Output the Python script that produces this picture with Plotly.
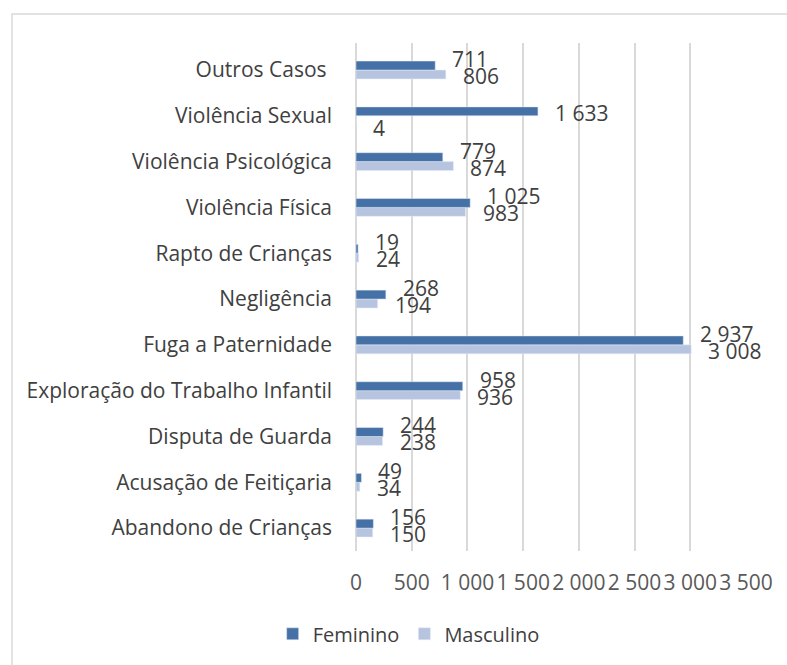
import plotly.graph_objects as go

categories = ["Abandono de Crianças", "Acusação de Feitiçaria", "Disputa de Guarda",
              "Exploração do Trabalho Infantil", "Fuga a Paternidade", "Negligência",
              "Rapto de Crianças", "Violência Física", "Violência Psicológica",
              "Violência Sexual", "Outros Casos "]
feminino = [156, 49, 244, 958, 2937, 268, 19, 1025, 779, 1633, 711]
masculino = [150, 34, 238, 936, 3008, 194, 24, 983, 874, 4, 806]
x_ticks = [0, 500, 1000, 1500, 2000, 2500, 3000, 3500]

C_FEM = "#4571a7"
C_MAS = "#b7c4e0"
TXT = "#404040"
FONT = "Open Sans"
FS = 21

fig = go.Figure()
fig.add_trace(go.Bar(name="Masculino", y=categories, x=masculino, orientation="h",
                     marker=dict(color=C_MAS), legendrank=2))
fig.add_trace(go.Bar(name="Feminino", y=categories, x=feminino, orientation="h",
                     marker=dict(color=C_FEM), legendrank=1))

def fmt(v):
    return f"{v:,}".replace(",", " ")

annotations = []
for cat, f, m in zip(categories, feminino, masculino):
    overlap = abs(f - m) < 600
    fs_shift, ms_shift = (11, -6) if overlap else (3, -12)
    annotations.append(dict(x=f, y=cat, xref="x", yref="y", text=fmt(f), showarrow=False,
                            xanchor="left", xshift=15, yshift=fs_shift,
                            font=dict(family=FONT, size=FS, color=TXT)))
    annotations.append(dict(x=m, y=cat, xref="x", yref="y", text=fmt(m), showarrow=False,
                            xanchor="left", xshift=15, yshift=ms_shift,
                            font=dict(family=FONT, size=FS, color=TXT)))

fig.update_layout(
    width=787, height=665,
    margin=dict(l=356, r=41, t=43, b=114),
    paper_bgcolor="white", plot_bgcolor="white",
    separators=", ",
    barmode="group", bargap=0.61, bargroupgap=0,
    font=dict(family=FONT, size=FS, color=TXT),
    showlegend=True,
    legend=dict(orientation="h", x=0.135, xanchor="center", y=-0.163, yanchor="middle",
                font=dict(family=FONT, size=FS - 1, color=TXT), traceorder="normal",
                itemwidth=30),
    annotations=annotations,
    shapes=[dict(type="rect", xref="paper", yref="paper", x0=-0.882, x1=1.15,
                 y0=-0.3, y1=1.057, line=dict(color="#d9d9d9", width=1.5),
                 fillcolor="rgba(0,0,0,0)", layer="below")],
)
fig.update_xaxes(range=[0, 3500], tickvals=x_ticks, tickformat=",d", tickangle=0,
                 showgrid=True, gridcolor="#d9d9d9", gridwidth=1.5,
                 zeroline=True, zerolinecolor="#d9d9d9", zerolinewidth=1.5,
                 showline=False, ticks="", ticklabelstandoff=17,
                 tickfont=dict(family=FONT, size=FS, color="#595959"))
fig.update_yaxes(showgrid=False, showline=False, ticks="", ticklabelstandoff=23,
                 tickfont=dict(family=FONT, size=FS, color=TXT))

fig.write_html("out.html", config={"displayModeBar": False},
               post_script="document.body.style.margin='0px';document.body.style.overflow='hidden';")
